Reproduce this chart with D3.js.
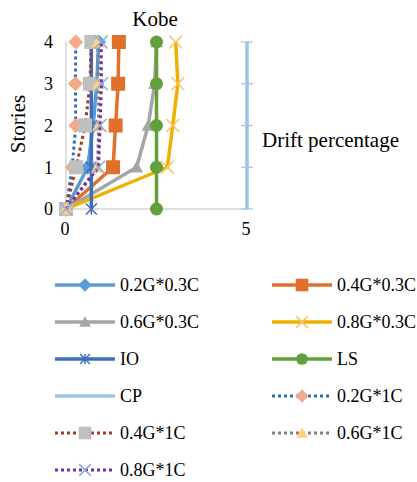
<!DOCTYPE html>
<html><head><meta charset="utf-8">
<script src="https://cdn.jsdelivr.net/npm/d3@7"></script>
<style>body{margin:0;background:#fff}svg{display:block}</style>
</head><body><div id="c"></div>
<script>
const stories = [0, 1, 2, 3, 4];
const xTicks = [0, 5];
const yTicks = [0, 1, 2, 3, 4];
const seriesNames = ["0.2G*0.3C","0.4G*0.3C","0.6G*0.3C","0.8G*0.3C","IO","LS","CP","0.2G*1C","0.4G*1C","0.6G*1C","0.8G*1C"];
const g02c03 = [0, 0.6, 0.75, 0.85, 0.9];
const g04c03 = [0, 1.3, 1.37, 1.44, 1.46];
const g06c03 = [0, 1.95, 2.27, 2.45, 2.5];
const g08c03 = [0, 2.8, 2.95, 3.09, 3.03];
const io = [0.7, 0.7, 0.7, 0.7, 0.7];
const ls = [2.5, 2.5, 2.5, 2.5, 2.5];
const cp = [5, 5, 5, 5, 5];
const g02c1 = [0, 0.17, 0.27, 0.26, 0.27];
const g04c1 = [0, 0.28, 0.53, 0.66, 0.7];
const g06c1 = [0, 0.87, 0.9, 0.9, 0.88];
const g08c1 = [0, 0.9, 0.94, 0.98, 0.97];

const seriesValues = [g02c03, g04c03, g06c03, g08c03, io, ls, cp, g02c1, g04c1, g06c1, g08c1];
const styles = [
  {line:"#5B9BD5", dash:null, marker:"diamond", mfill:"#5B9BD5", w:3.5},
  {line:"#E0702A", dash:null, marker:"square", mfill:"#E0702A", w:3.5},
  {line:"#A5A5A5", dash:null, marker:"triangle", mfill:"#A5A5A5", w:3.5},
  {line:"#F0B000", dash:null, marker:"x", mfill:"#F5C56A", w:3.5},
  {line:"#3F6DBF", dash:null, marker:"asterisk", mfill:"#3F6DBF", w:3.5},
  {line:"#62A03E", dash:null, marker:"circle", mfill:"#62A03E", w:3.5},
  {line:"#9DC3E6", dash:null, marker:"plus", mfill:"#9DC3E6", w:3.5},
  {line:"#2E6DB0", dash:"3,3", marker:"diamond", mfill:"#F4A98A", w:3},
  {line:"#9E3A2A", dash:"3,3", marker:"square", mfill:"#BFBFBF", w:3},
  {line:"#7F7F7F", dash:"3,3", marker:"triangle", mfill:"#FFD27A", w:3},
  {line:"#7030A0", dash:"3,3", marker:"x", mfill:"#8FAADC", w:3}
];

const FONT = "'Liberation Serif', 'Times New Roman', 'DejaVu Serif', serif";
const W = 417, H = 482;
const svg = d3.select("#c").append("svg").attr("width", W).attr("height", H)
  .attr("font-family", FONT).style("font-family", FONT);
const x = d3.scaleLinear().domain([0, 5]).range([66, 247]);
const y = d3.scaleLinear().domain([0, 4]).range([209, 42]);

// axes lines
svg.append("line").attr("x1", x(0)).attr("x2", x(0)).attr("y1", y(0)).attr("y2", y(4)).attr("stroke", "#BFBFBF").attr("stroke-width", 1);
svg.append("line").attr("x1", x(0)).attr("x2", x(5)).attr("y1", y(0)).attr("y2", y(0)).attr("stroke", "#BFBFBF").attr("stroke-width", 1);

function txt(sel) { return sel.attr("font-family", FONT).attr("fill", "#000"); }

// tick labels
txt(svg.selectAll(".yt").data(yTicks).enter().append("text"))
  .attr("x", 53).attr("y", d => y(d)).attr("dy", "0.35em").attr("text-anchor", "end")
  .attr("font-size", 18).text(d => d);
txt(svg.selectAll(".xt").data(xTicks).enter().append("text"))
  .attr("x", d => x(d) - 1).attr("y", 235).attr("text-anchor", "middle")
  .attr("font-size", 18).text(d => d);

// titles
txt(svg.append("text")).attr("x", 155).attr("y", 26).attr("text-anchor", "middle").attr("font-size", 21).text("Kobe");
txt(svg.append("text")).attr("transform", "translate(25,124) rotate(-90)").attr("text-anchor", "middle").attr("font-size", 21).text("Stories");
txt(svg.append("text")).attr("x", 262).attr("y", 147).attr("font-size", 21).text("Drift percentage");

function markerPath(type, s) {
  const h = s / 2;
  switch (type) {
    case "diamond": return `M0,${-h}L${h},0L0,${h}L${-h},0Z`;
    case "square": return `M${-h},${-h}H${h}V${h}H${-h}Z`;
    case "triangle": return `M0,${-h}L${h},${h*0.8}L${-h},${h*0.8}Z`;
    case "circle": return d3.symbol(d3.symbolCircle, Math.PI * h * h)();
    case "x": return `M${-h},${-h}L${h},${h}M${-h},${h}L${h},${-h}`;
    case "asterisk": return `M${-h},${-h}L${h},${h}M${-h},${h}L${h},${-h}M0,${-h}V${h}`;
    case "plus": return `M${-h},0H${h}`;
  }
}
const msize = {diamond: 15, square: 14, triangle: 13, circle: 13, x: 13, asterisk: 11, plus: 12};
const isStroke = t => t === "x" || t === "asterisk" || t === "plus";

function drawMarker(g, st, cx, cy, scale) {
  const s = msize[st.marker] * (scale || 1);
  const p = g.append("path").attr("d", markerPath(st.marker, s)).attr("transform", `translate(${cx},${cy})`);
  if (isStroke(st.marker)) p.attr("fill", "none").attr("stroke", st.mfill).attr("stroke-width", st.marker === "plus" ? 1.2 : 1.5);
  else p.attr("fill", st.mfill).attr("stroke", "none");
}

const line = d3.line().x(d => x(d[0])).y(d => y(d[1]));
const plot = svg.append("g");
seriesValues.forEach((vals, i) => {
  const st = styles[i];
  const pts = vals.map((v, j) => [v, stories[j]]);
  const g = plot.append("g");
  g.append("path").datum(pts).attr("d", line).attr("fill", "none")
    .attr("stroke", st.line).attr("stroke-width", st.w)
    .attr("stroke-dasharray", st.dash).attr("stroke-linejoin", "round");
  pts.forEach(p => drawMarker(g, st, x(p[0]), y(p[1])));
});

// legend
const leg = svg.append("g");
const colX = [55, 272], rowY = [285, 322, 359, 396, 433, 470];
seriesNames.forEach((name, i) => {
  const st = styles[i];
  const lx = colX[i % 2], ly = rowY[Math.floor(i / 2)];
  const g = leg.append("g");
  g.append("line").attr("x1", lx).attr("x2", lx + 60).attr("y1", ly).attr("y2", ly)
    .attr("stroke", st.line).attr("stroke-width", st.w).attr("stroke-dasharray", st.dash);
  drawMarker(g, st, lx + 30, ly, 0.9);
  txt(g.append("text")).attr("x", lx + 65).attr("y", ly).attr("dy", "0.35em").attr("font-size", 18).text(name);
});
</script></body></html>
